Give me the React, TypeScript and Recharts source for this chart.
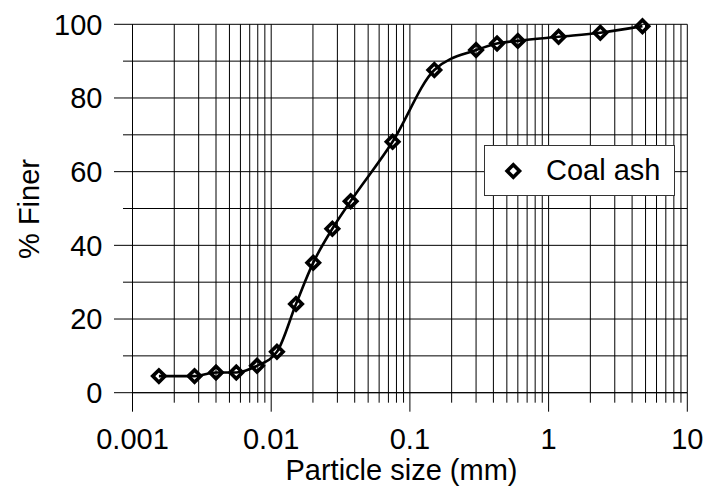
import React from 'react'
import { LineChart, Line, XAxis, YAxis, CartesianGrid, Legend, Label } from 'recharts'

// grain size distribution, sieve + hydrometer
const particleSize = [
  0.00155, 0.0028, 0.004, 0.0056, 0.0079, 0.011, 0.0151, 0.0201, 0.0276, 0.0374,
  0.075, 0.15, 0.3, 0.425, 0.6, 1.18, 2.36, 4.75,
]
const percentFiner = [
  4.5, 4.5, 5.5, 5.5, 7.3, 11.1, 24.1, 35.3, 44.5, 52.0,
  68.1, 87.6, 93.0, 94.8, 95.5, 96.6, 97.7, 99.5,
]
const decades = [0.001, 0.01, 0.1, 1]
const minorSteps = [1, 2, 3, 4, 5, 6, 7, 8, 9]
const xMajorLabels = ['0.001', '0.01', '0.1', '1', '10']
const yTicks = [0, 10, 20, 30, 40, 50, 60, 70, 80, 90, 100]
const yLabelled = [0, 20, 40, 60, 80, 100]

const data = particleSize.map((s, i) => ({ size: s, finer: percentFiner[i] }))
const xTicks = [...decades.flatMap((d) => minorSteps.map((m) => +(d * m).toPrecision(6))), 10]

const FONT = '"Liberation Sans", Arial, sans-serif'
const FS = 29

function isMajor(v: number) {
  const l = Math.log10(v)
  return Math.abs(l - Math.round(l)) < 1e-9
}

function XTick(props: any) {
  const { x, y, payload } = props
  const v = payload.value as number
  const major = isMajor(v)
  const label = major ? xMajorLabels[Math.round(Math.log10(v)) + 3] : null
  return (
    <g>
      <line x1={x} x2={x} y1={y} y2={y + (major ? 19 : 10)} stroke="#000" strokeWidth={1} />
      {label && (
        <text x={x} y={y + 56} textAnchor="middle" fontFamily={FONT} fontSize={FS} fill="#000">
          {label}
        </text>
      )}
    </g>
  )
}

function YTick(props: any) {
  const { x, y, payload } = props
  const v = payload.value as number
  const major = yLabelled.includes(v)
  return (
    <g>
      <line x1={x - (major ? 18.5 : 9.5)} x2={x} y1={y} y2={y} stroke="#000" strokeWidth={1} />
      {major && (
        <text x={x - 30} y={y} dy="0.36em" textAnchor="end" fontFamily={FONT} fontSize={FS} fill="#000">
          {v}
        </text>
      )}
    </g>
  )
}

function Diamond(props: any) {
  const { cx, cy } = props
  if (cx == null || cy == null) return null
  const r = 6.2
  return (
    <path
      d={`M${cx},${cy - r}L${cx + r},${cy}L${cx},${cy + r}L${cx - r},${cy}Z`}
      fill="none"
      stroke="#000"
      strokeWidth={3.6}
    />
  )
}

function LegendBox() {
  return (
    <div
      style={{
        position: 'relative',
        width: 191,
        height: 51,
        boxSizing: 'border-box',
        border: '1px solid #333',
        background: '#fff',
      }}
    >
      <svg width={191} height={51} style={{ position: 'absolute', left: -1, top: -1 }}>
        <Diamond cx={29.3} cy={26} />
        <text x={62} y={35} fontFamily={FONT} fontSize={FS} fill="#000">
          Coal ash
        </text>
      </svg>
    </div>
  )
}

export default function App() {
  return (
    <div style={{ position: 'relative', width: 705, height: 486, overflow: 'hidden' }}>
      <style>{'body{margin:0;overflow:hidden}'}</style>
      <LineChart width={705} height={486} data={data} margin={{ top: 24.3, right: 17.7, bottom: 0, left: 0 }}>
        <CartesianGrid stroke="#000" strokeWidth={1} />
        <XAxis
          dataKey="size"
          type="number"
          scale="log"
          domain={[0.001, 10]}
          ticks={xTicks}
          interval={0}
          allowDataOverflow
          height={93.3}
          tickSize={0}
          tickMargin={0}
          tickLine={false}
          axisLine={{ stroke: '#000' }}
          tick={<XTick />}
        >
          <Label
            content={() => (
              <text x={401.5} y={480} textAnchor="middle" fontFamily={FONT} fontSize={FS} fill="#000">
                Particle size (mm)
              </text>
            )}
          />
        </XAxis>
        <YAxis
          type="number"
          domain={[0, 100]}
          ticks={yTicks}
          interval={0}
          width={132.5}
          tickSize={0}
          tickMargin={0}
          tickLine={false}
          axisLine={{ stroke: '#000' }}
          tick={<YTick />}
        >
          <Label
            content={() => (
              <text
                x={39}
                y={209}
                transform="rotate(-90 39 209)"
                textAnchor="middle"
                fontFamily={FONT}
                fontSize={FS}
                fill="#000"
              >
                % Finer
              </text>
            )}
          />
        </YAxis>
        <Legend
          layout="horizontal"
          verticalAlign="middle"
          align="center"
          wrapperStyle={{ left: 484, top: 145, width: 191 }}
          content={() => <LegendBox />}
        />
        <Line
          dataKey="finer"
          name="Coal ash"
          type="monotone"
          stroke="#000"
          strokeWidth={2.6}
          dot={<Diamond />}
          activeDot={false}
          isAnimationActive={false}
        />
      </LineChart>
    </div>
  )
}
